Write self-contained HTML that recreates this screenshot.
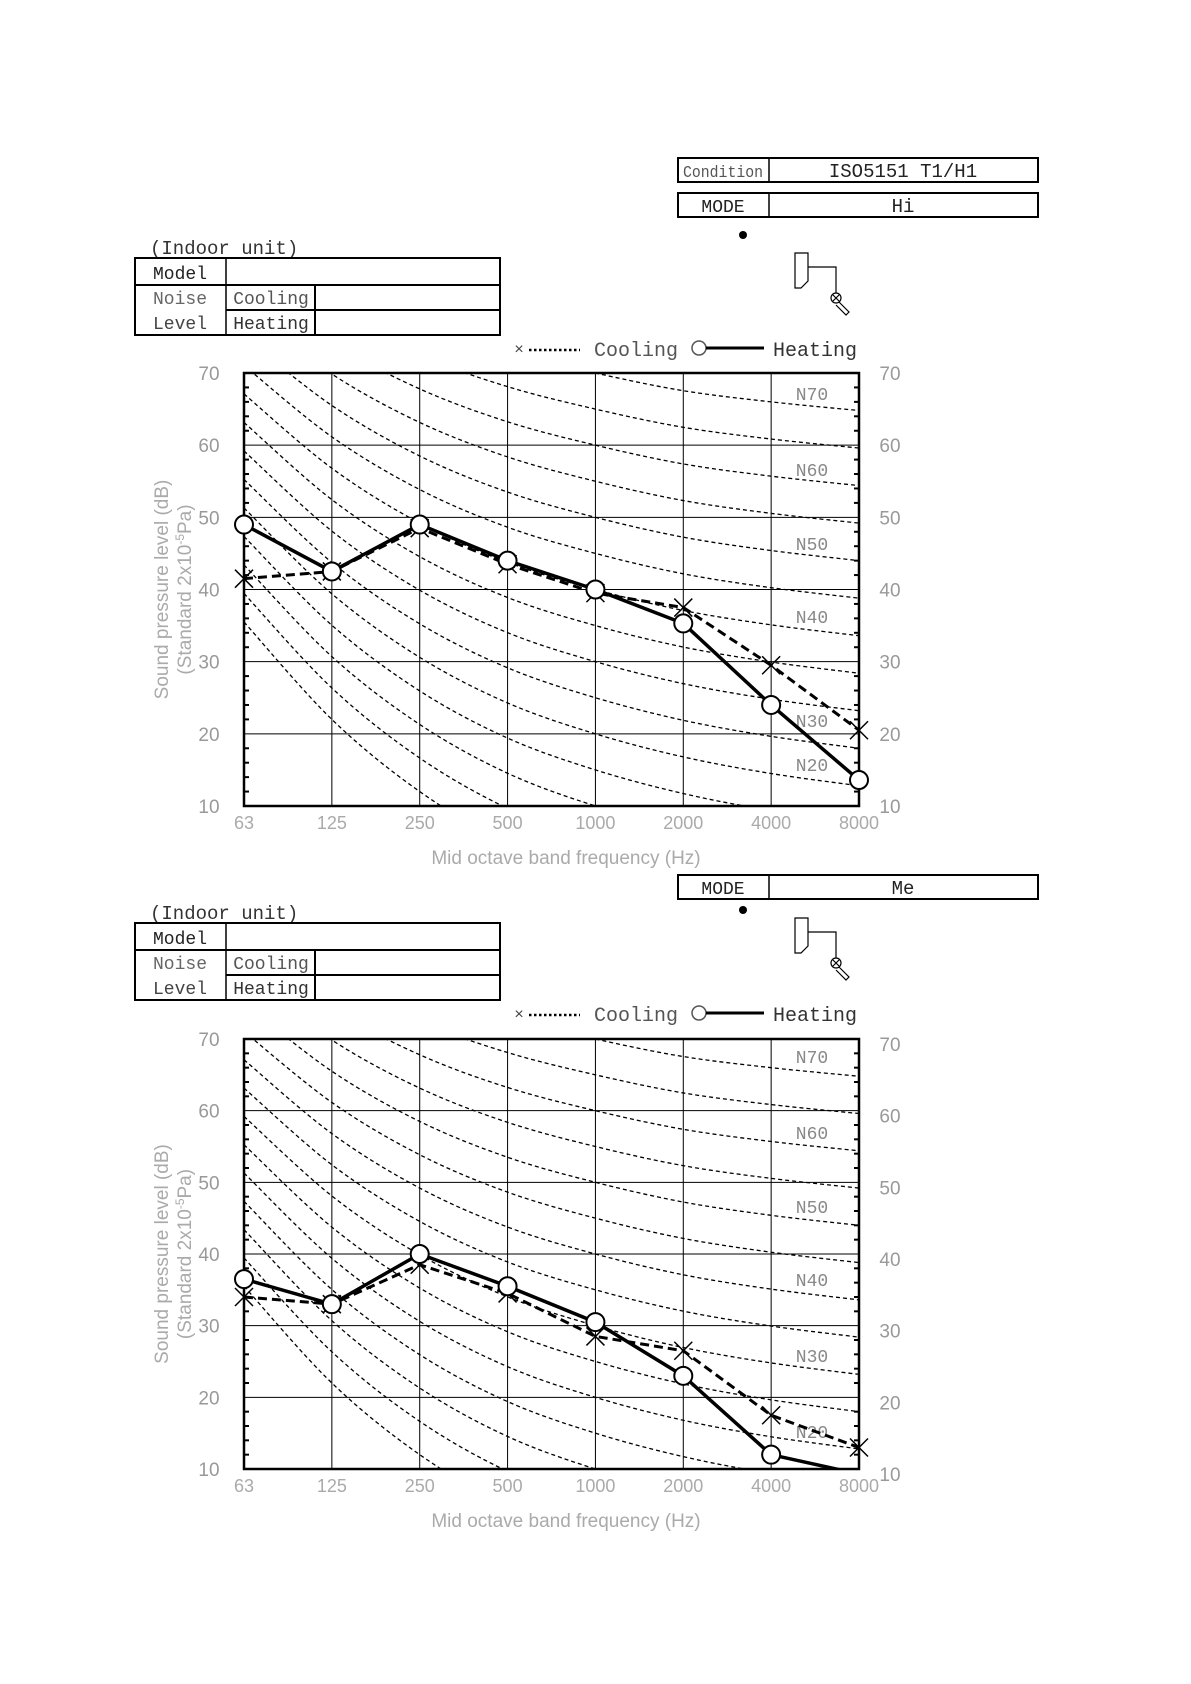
<!DOCTYPE html>
<html><head><meta charset="utf-8"><style>
html,body{margin:0;padding:0;background:#fff;}
svg{display:block;}
.t{font-family:"Liberation Mono","Noto Sans CJK JP",monospace;}
.s{font-family:"Liberation Sans",sans-serif;}
</style></head><body>
<svg id="page" width="1191" height="1684" viewBox="0 0 1191 1684" xmlns="http://www.w3.org/2000/svg">
<g>
<rect x="678" y="158" width="360" height="24" fill="none" stroke="#000" stroke-width="2"/>
<line x1="769" y1="158" x2="769" y2="182" stroke="#000" stroke-width="1.5"/>
<text class="t" x="723" y="177" font-size="17" text-anchor="middle" fill="#555" textLength="80" lengthAdjust="spacingAndGlyphs">Condition</text>
<text class="t" x="903" y="177" font-size="19" text-anchor="middle" fill="#222">ISO5151 T1/H1</text>
</g>
</svg>
<script>
const freqLabels = ["63","125","250","500","1000","2000","4000","8000"];
const yTicks = [10,20,30,40,50,60,70];
const heatingHi = [49,42.5,49,44,40,35.3,24,13.6];
const coolingHi = [41.5,42.5,48.5,43.5,39.5,37.5,29.5,20.5];
const heatingMe = [36.5,33,40,35.5,30.5,23,12,9.3];
const coolingMe = [34,33,38.5,34.5,28.5,26.5,17.5,13];
const nrA = [35.5,22,12,4.8,0,-3.5,-6.1,-8];
const nrB = [0.79,0.87,0.93,0.974,1,1.015,1.03,1.04];
const nrLabels = [70,60,50,40,30,20];

const NS="http://www.w3.org/2000/svg";
const svg=document.getElementById('page');
function el(tag,attrs,parent,text){const e=document.createElementNS(NS,tag);for(const k in attrs)e.setAttribute(k,attrs[k]);if(text!==undefined)e.textContent=text;(parent||svg).appendChild(e);return e;}

function header(g,modeY,modeText,dotY,off){
  const m=el('g',{},g);
  
  
  el('rect',{x:678,y:modeY,width:360,height:24,fill:'none',stroke:'#000','stroke-width':2},m);
  el('line',{x1:769,y1:modeY,x2:769,y2:modeY+24,stroke:'#000','stroke-width':1.5},m);
  el('text',{class:'t',x:723,y:modeY+19,'font-size':18,'text-anchor':'middle',fill:'#222'},m,'MODE');
  el('text',{class:'t',x:903,y:modeY+19,'font-size':19,'text-anchor':'middle',fill:'#222'},m,modeText);
  const d=el('circle',{cx:743,cy:dotY,r:4,fill:'#000'},g);
  
  
  const ic=el('g',{fill:'none',stroke:'#000','stroke-width':1.2},g);
  
  
  el('path',{d:`M795 ${253+off} L808 ${253+off} L808 ${281+off} L801 ${288+off} L795 ${288+off} Z`},ic);
  el('path',{d:`M808 ${267+off} L836 ${267+off} L836 ${293+off}`},ic);
  el('circle',{cx:836,cy:298+off,r:5},ic);
  el('path',{d:`M833 ${295+off} L839 ${301+off} M839 ${295+off} L833 ${301+off}`},ic);
  el('path',{d:`M839 ${302+off} L849 ${312+off} L846 ${315+off} L836 ${305+off}`},ic);
  // indoor table
  const t=el('g',{},g);
  
  
  el('text',{class:'t',x:150,y:254+off,'font-size':19,fill:'#333'},t,'(Indoor unit)');
  el('rect',{x:135,y:258+off,width:365,height:77,fill:'none',stroke:'#000','stroke-width':2},t);
  el('line',{x1:135,y1:285+off,x2:500,y2:285+off,stroke:'#000','stroke-width':2},t);
  el('line',{x1:226,y1:310+off,x2:500,y2:310+off,stroke:'#000','stroke-width':2},t);
  el('line',{x1:226,y1:258+off,x2:226,y2:335+off,stroke:'#000','stroke-width':1.5},t);
  el('line',{x1:315,y1:285+off,x2:315,y2:335+off,stroke:'#000','stroke-width':2},t);
  el('text',{class:'t',x:180,y:279+off,'font-size':18,'text-anchor':'middle',fill:'#222'},t,'Model');
  el('text',{class:'t',x:180,y:304+off,'font-size':18,'text-anchor':'middle',fill:'#666'},t,'Noise');
  el('text',{class:'t',x:180,y:329+off,'font-size':18,'text-anchor':'middle',fill:'#444'},t,'Level');
  el('text',{class:'t',x:271,y:304+off,'font-size':18,'text-anchor':'middle',fill:'#555'},t,'Cooling');
  el('text',{class:'t',x:271,y:329+off,'font-size':18,'text-anchor':'middle',fill:'#333'},t,'Heating');
  // legend
  const L=el('g',{},g);
  
  
  el('text',{class:'t',x:519,y:354+off,'font-size':16,'text-anchor':'middle',fill:'#444'},L,'×');
  el('line',{x1:529,y1:350+off,x2:580,y2:350+off,stroke:'#000','stroke-width':2.5,'stroke-dasharray':'2.5 2.5'},L);
  el('text',{class:'t',x:594,y:356+off,'font-size':20,fill:'#555'},L,'Cooling');
  el('circle',{cx:699,cy:348+off,r:7,fill:'none',stroke:'#555','stroke-width':1.5},L);
  el('line',{x1:706,y1:348+off,x2:764,y2:348+off,stroke:'#000','stroke-width':3},L);
  el('text',{class:'t',x:773,y:356+off,'font-size':20,fill:'#333'},L,'Heating');
}

function chart(g,top,bottom,heat,cool,rightOff,nrY){
  const left=244,right=859;
  const X=i=>left+(right-left)*i/7;
  const Y=v=>bottom-(bottom-top)*(v-10)/60;
  const clipId='clip'+top;
  const cp=el('clipPath',{id:clipId},g);
  el('rect',{x:left,y:top,width:right-left,height:bottom-top},cp);
  // grid
  const grid=el('g',{stroke:'#000','stroke-width':1},g);
  
  
  for(let i=1;i<7;i++) el('line',{x1:X(i),y1:top,x2:X(i),y2:bottom},grid);
  yTicks.forEach(v=>{if(v>10&&v<70) el('line',{x1:left,y1:Y(v),x2:right,y2:Y(v)},grid);});
  for(let v=12;v<70;v+=2){ if(v%10){ el('line',{x1:left,y1:Y(v),x2:left+5,y2:Y(v),'stroke-width':2},grid); el('line',{x1:right-5,y1:Y(v),x2:right,y2:Y(v),'stroke-width':2},grid);} }
  // NR curves
  const nr=el('g',{'clip-path':`url(#${clipId})`,fill:'none',stroke:'#000','stroke-width':1.3,'stroke-dasharray':'4 3'},g);
  
  
  for(let N=0;N<=110;N+=5){
    const pts=nrA.map((a,i)=>[X(i),Y(a+nrB[i]*N)]);
    let d=`M${pts[0][0]},${pts[0][1]}`;
    for(let i=0;i<pts.length-1;i++){
      const p0=pts[Math.max(0,i-1)],p1=pts[i],p2=pts[i+1],p3=pts[Math.min(pts.length-1,i+2)];
      const c1=[p1[0]+(p2[0]-p0[0])/6,p1[1]+(p2[1]-p0[1])/6];
      const c2=[p2[0]-(p3[0]-p1[0])/6,p2[1]-(p3[1]-p1[1])/6];
      d+=` C${c1[0]},${c1[1]} ${c2[0]},${c2[1]} ${p2[0]},${p2[1]}`;
    }
    const c=el('path',{d},nr);
    
    
  }
  nrLabels.forEach((n,k)=>{
    const tx=el('text',{class:'t',x:812,y:nrY[k],'font-size':18,'text-anchor':'middle',fill:'#888'},g,'N'+n);
    
    
  });
  // frame
  const f=el('rect',{x:left,y:top,width:right-left,height:bottom-top,fill:'none',stroke:'#000','stroke-width':2.5},g);
  
  
  // series
  const sg=el('g',{'clip-path':`url(#${clipId}b)`},g);
  const cp2=el('clipPath',{id:clipId+'b'},g);
  el('rect',{x:left-20,y:top-20,width:right-left+40,height:bottom-top+21},cp2);
  const cl=el('polyline',{points:cool.map((v,i)=>X(i)+','+Y(v)).join(' '),fill:'none',stroke:'#000','stroke-width':3,'stroke-dasharray':'9 5'},sg);
  
  
  const hl=el('polyline',{points:heat.map((v,i)=>X(i)+','+Y(v)).join(' '),fill:'none',stroke:'#000','stroke-width':3.5},sg);
  
  
  cool.forEach((v,i)=>{
    const x=X(i),y=Y(v);
    const m=el('path',{d:`M${x-9},${y-9}L${x+9},${y+9}M${x+9},${y-9}L${x-9},${y+9}`,stroke:'#000','stroke-width':1.5},sg);
    
    
  });
  heat.forEach((v,i)=>{
    if(v<10) return;
    const m=el('circle',{cx:X(i),cy:Y(v),r:9,fill:'#fff',stroke:'#000','stroke-width':2},sg);
    
    
  });
  // tick labels
  yTicks.forEach(v=>{
    const a=el('text',{class:'s',x:209,y:Y(v)+7,'font-size':19,'text-anchor':'middle',fill:'#999'},g,String(v));
    
    
    const b=el('text',{class:'s',x:890,y:Y(v)+7+rightOff,'font-size':19,'text-anchor':'middle',fill:'#999'},g,String(v));
    
    
  });
  freqLabels.forEach((l,i)=>{
    const a=el('text',{class:'s',x:X(i),y:bottom+23,'font-size':18,'text-anchor':'middle',fill:'#aaa'},g,l);
    
    
  });
  const xt=el('text',{class:'s',x:566,y:bottom+58,'font-size':19,'text-anchor':'middle',fill:'#aaa'},g,'Mid octave band frequency  (Hz)');
  
  
  const cy=(top+bottom)/2;
  const yt=el('text',{class:'s',x:0,y:0,'font-size':19,'text-anchor':'middle',fill:'#aaa',transform:`translate(168,${cy}) rotate(-90)`},g,'Sound pressure level (dB)');
  
  
  const yt2=el('text',{class:'s',x:0,y:0,'font-size':19,'text-anchor':'middle',fill:'#aaa',transform:`translate(191,${cy}) rotate(-90)`},g);
  
  
  yt2.innerHTML='(Standard 2x10<tspan dy="-7" font-size="12">-5</tspan><tspan dy="7">Pa)</tspan>';
}

const g1=el('g',{});


header(g1,193,'Hi',235,0);
chart(g1,373,806,heatingHi,coolingHi,0,[400,476,550,623,727,771]);

const g2=el('g',{});


header(g2,875,'Me',910,665);
chart(g2,1039,1469,heatingMe,coolingMe,5,[1063,1139,1213,1286,1362,1438]);
</script>
</body></html>
